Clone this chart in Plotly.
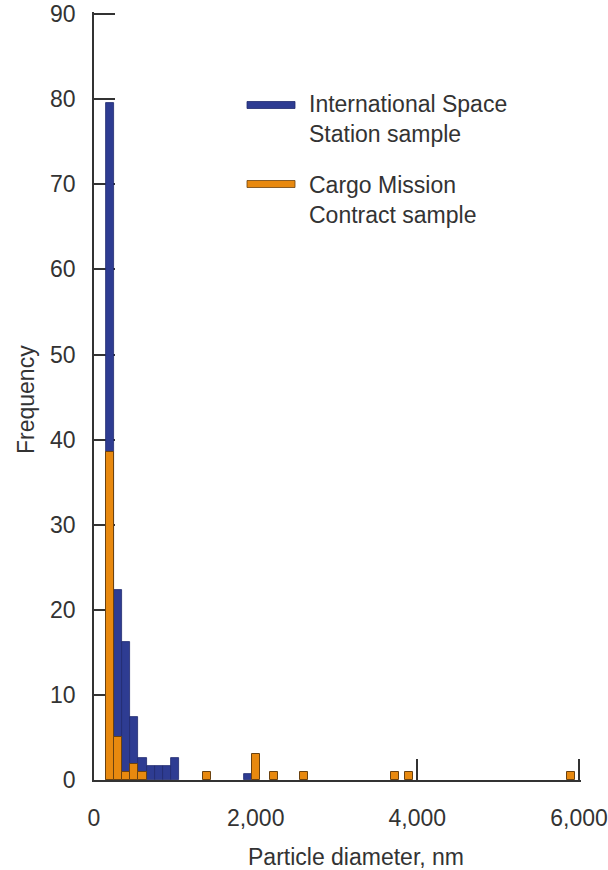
import plotly.graph_objects as go

# Particle-size histogram: 100 nm bins, bar centres in nm
series_names = ["International Space<br>Station sample", "Cargo Mission<br>Contract sample"]

iss_diameter = [200, 300, 400, 500, 600, 700, 800, 900, 1000, 1900]
iss_frequency = [79.5, 22.3, 16.2, 7.4, 2.6, 1.6, 1.6, 1.6, 2.6, 0.65]

cmc_diameter = [200, 300, 400, 500, 600, 1400, 2000, 2225, 2600, 3725, 3900, 5900]
cmc_frequency = [38.6, 5.1, 0.9, 1.9, 0.9, 0.9, 3.0, 0.9, 0.9, 0.9, 0.9, 0.9]

x_ticks = [0, 2000, 4000, 6000]
y_ticks = [0, 10, 20, 30, 40, 50, 60, 70, 80, 90]

BLUE = "#2E3C92"
ORANGE = "#E8890F"
INK = "#333333"
FONT = "Liberation Sans, Arial, sans-serif"
BIN = 100

fig = go.Figure()
fig.add_trace(go.Bar(
    x=iss_diameter, y=iss_frequency, width=BIN, name=series_names[0],
    marker=dict(color=BLUE, line=dict(color="#1f2a6e", width=0.8)),
    showlegend=False,
))
fig.add_trace(go.Bar(
    x=cmc_diameter, y=cmc_frequency, width=BIN, name=series_names[1],
    marker=dict(color=ORANGE, line=dict(color="#6b4210", width=1)),
    showlegend=False,
))

# Plot-area geometry (pixels) used to place the hand-drawn key
L, R, T, B = 94, 581, 12, 780
W, H = R - L, B - T
px = lambda v: (v - L) / W
py = lambda v: (B - v) / H

key = [
    (series_names[0], BLUE, "#1f2a6e", 105, 119),
    (series_names[1], ORANGE, "#6b4210", 184, 199.5),
]
shapes, annotations = [], []
for name, fill, edge, sy, ty in key:
    shapes.append(dict(
        type="rect", xref="paper", yref="paper",
        x0=px(247), x1=px(295), y0=py(sy + 3.5), y1=py(sy - 3.5),
        fillcolor=fill, line=dict(color=edge, width=0.8),
    ))
    annotations.append(dict(
        xref="paper", yref="paper", x=px(307), y=py(ty),
        xanchor="left", yanchor="middle", align="left", showarrow=False,
        text=name, font=dict(family=FONT, size=23, color=INK),
    ))

# Axis titles
annotations.append(dict(
    xref="paper", yref="paper", x=px(356), y=py(857),
    xanchor="center", yanchor="middle", showarrow=False,
    text="Particle diameter, nm", font=dict(family=FONT, size=23, color=INK),
))
annotations.append(dict(
    xref="paper", yref="paper", x=px(26), y=py(400),
    xanchor="center", yanchor="middle", showarrow=False, textangle=-90,
    text="Frequency", font=dict(family=FONT, size=23, color=INK),
))

fig.update_layout(
    width=608, height=870,
    margin=dict(l=L, r=608 - R, t=T, b=870 - B, pad=0),
    paper_bgcolor="white", plot_bgcolor="white",
    barmode="overlay", bargap=0,
    font=dict(family=FONT, size=23, color=INK),
    shapes=shapes, annotations=annotations,
)
# Ranges run a hair past the last tick so the end ticks are still drawn
fig.update_xaxes(
    range=[0, 6025], tickvals=x_ticks, tickformat=",d", automargin=False,
    showline=True, linecolor=INK, linewidth=1.6,
    ticks="inside", ticklen=21, tickwidth=1.6, tickcolor=INK,
    showgrid=False, zeroline=False, layer="below traces",
    ticklabelstandoff=17, tickfont=dict(family=FONT, size=23, color=INK),
)
fig.update_yaxes(
    range=[0, 90.25], tickvals=y_ticks, automargin=False,
    showline=True, linecolor=INK, linewidth=1.6,
    ticks="inside", ticklen=21, tickwidth=1.6, tickcolor=INK,
    showgrid=False, zeroline=False, layer="below traces",
    ticklabelstandoff=12, tickfont=dict(family=FONT, size=23, color=INK),
)

fig.write_html("out.html")
